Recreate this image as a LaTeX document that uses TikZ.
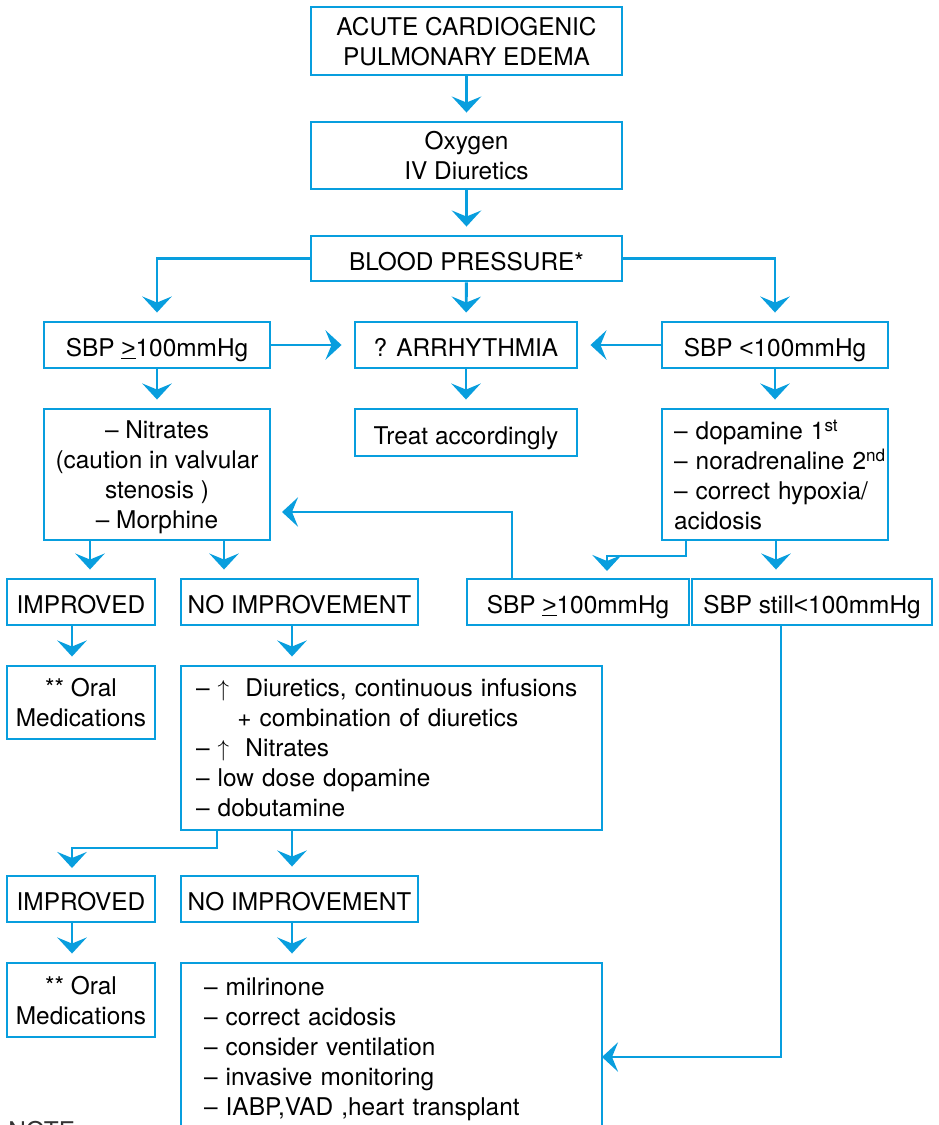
\documentclass[tikz,border=0pt]{standalone}
\usepackage{fontspec}
\setmainfont{TeX Gyre Heros}
\newfontfamily\lsans{Liberation Sans}
\usetikzlibrary{arrows.meta,calc}
\definecolor{fcblue}{RGB}{8,158,222}
\newcommand\lessth{{\lsans <}}
\newcommand\geqth{\underline{\lsans >}}
\begin{document}
\begin{tikzpicture}[x=0.75pt,y=-0.75pt,
  box/.style={draw=fcblue, line width=2.2pt, rectangle, inner sep=0pt, align=center,
    font=\fontsize{18.3pt}{22.5pt}\selectfont, text=black, text depth=0pt},
  one/.style={box, text height=17.5pt},
  arr/.style={draw=fcblue, line width=2.2pt,
    -{Stealth[length=12pt,width=22pt,inset=4.5pt]}, shorten >=6pt},
  arrh/.style={arr, shorten >=9pt}]
\useasboundingbox (0,0) rectangle (939,1125);
\clip (0,0) rectangle (939,1125);
% boxes
\node[box, minimum width=311*0.75pt, minimum height=68*0.75pt] (n1) at (466.5,41) {ACUTE CARDIOGENIC\\PULMONARY EDEMA};
\node[box, minimum width=311*0.75pt, minimum height=67*0.75pt] (n2) at (466.5,155.5) {Oxygen\\IV Diuretics};
\node[one, minimum width=311*0.75pt, minimum height=45*0.75pt] (n3) at (466.5,258.5) {BLOOD PRESSURE*};
\node[one, minimum width=226*0.75pt, minimum height=46*0.75pt] (n4) at (157,345) {SBP \geqth100mmHg};
\node[one, minimum width=222*0.75pt, minimum height=46*0.75pt] (n5) at (466,345) {? ARRHYTHMIA};
\node[one, minimum width=226*0.75pt, minimum height=46*0.75pt] (n6) at (775,345) {SBP \lessth100mmHg};
\node[box, minimum width=226*0.75pt, minimum height=131*0.75pt] (n7) at (157,474.5) {– Nitrates\\(caution in valvular\\stenosis )\\– Morphine};
\node[one, minimum width=222*0.75pt, minimum height=47*0.75pt] (n8) at (466,432.5) {Treat accordingly};
\node[box, minimum width=226*0.75pt, minimum height=131*0.75pt, inner xsep=9pt, text width=202*0.75pt, align=left, text depth=67.5pt] (n9) at (775,474.5)
  {\mbox{– dopamine 1\textsuperscript{st}}\\\mbox{– noradrenaline 2\textsuperscript{nd}}\\\mbox{– correct hypoxia/}\\acidosis};
\node[one, minimum width=148*0.75pt, minimum height=46*0.75pt] (n10) at (81,602) {IMPROVED};
\node[one, minimum width=237*0.75pt, minimum height=46*0.75pt] (n11) at (299.5,602) {NO IMPROVEMENT};
\node[one, minimum width=222*0.75pt, minimum height=46*0.75pt] (n12) at (578,602) {SBP \geqth100mmHg};
\node[one, minimum width=240*0.75pt, minimum height=46*0.75pt] (n13) at (812,602) {SBP still\lessth100mmHg};
\node[box, minimum width=148*0.75pt, minimum height=73*0.75pt] (n14) at (81,702.5) {** Oral\\Medications};
\node[box, minimum width=421*0.75pt, minimum height=164*0.75pt, inner xsep=11.25pt, text width=391*0.75pt, align=left, text depth=90pt] (n15) at (391.5,748)
  {\mbox{– $\uparrow$\ \ Diuretics, continuous infusions}\\\hspace*{31pt}+ combination of diuretics\\– $\uparrow$\ \ Nitrates\\– low dose dopamine\\– dobutamine};
\node[one, minimum width=148*0.75pt, minimum height=46*0.75pt] (n16) at (81,899) {IMPROVED};
\node[one, minimum width=237*0.75pt, minimum height=46*0.75pt] (n17) at (299.5,899) {NO IMPROVEMENT};
\node[box, minimum width=148*0.75pt, minimum height=74*0.75pt] (n18) at (81,1000) {** Oral\\Medications};
\node[box, minimum width=421*0.75pt, minimum height=168*0.75pt, inner xsep=17.25pt, text width=375*0.75pt, align=left, text depth=90pt] (n19) at (391.5,1047)
  {– milrinone\\– correct acidosis\\– consider ventilation\\– invasive monitoring\\– IABP,VAD ,heart transplant};
\node[anchor=north west, inner sep=0pt, font=\fontsize{18.3pt}{22.5pt}\selectfont, text=black!80] (note) at (8,1121) {NOTE};
% coordinates
\coordinate (c7a) at (90,540);
\coordinate (c7b) at (224,540);
\coordinate (c7in) at (270,512);
\coordinate (c12) at (512,579);
\coordinate (c9a) at (686,540);
\coordinate (c9b) at (686,556);
\coordinate (c12in) at (607,579);
\coordinate (c9c) at (776,540);
\coordinate (c10) at (72,625);
\coordinate (c11) at (292,625);
\coordinate (c15a) at (217,830);
\coordinate (c15b) at (217,848);
\coordinate (c16in) at (72,876);
\coordinate (c15c) at (292,830);
\coordinate (c16) at (72,922);
\coordinate (c17) at (292,922);
\coordinate (c13) at (781,625);
\coordinate (c19in) at (602,1057);
% connectors
\draw[arr] (n1) -- (n2);
\draw[arr] (n2) -- (n3);
\draw[arr] (n3) -- (n5);
\draw[arr] (n3.west) -| (n4.north);
\draw[arr] (n3.east) -| (n6.north);
\draw[arrh] (n4) -- (n5);
\draw[arrh] (n6) -- (n5);
\draw[arr] (n4) -- (n7);
\draw[arr] (n5) -- (n8);
\draw[arr] (n6) -- (n9);
\draw[arr] (c7a) -- (c7a |- n10.north);
\draw[arr] (c7b) -- (c7b |- n11.north);
\draw[arrh] (c12) |- (c7in);
\draw[arr] (c9a) -- (c9b) -| (c12in);
\draw[arr] (c9c) -- (c9c |- n13.north);
\draw[arr] (c10) -- (c10 |- n14.north);
\draw[arr] (c11) -- (c11 |- n15.north);
\draw[arr] (c15a) -- (c15b) -| (c16in);
\draw[arr] (c15c) -- (c15c |- n17.north);
\draw[arr] (c16) -- (c16 |- n18.north);
\draw[arr] (c17) -- (c17 |- n19.north);
\draw[arr, shorten >=0pt] (c13) |- (c19in);
\end{tikzpicture}
\end{document}
